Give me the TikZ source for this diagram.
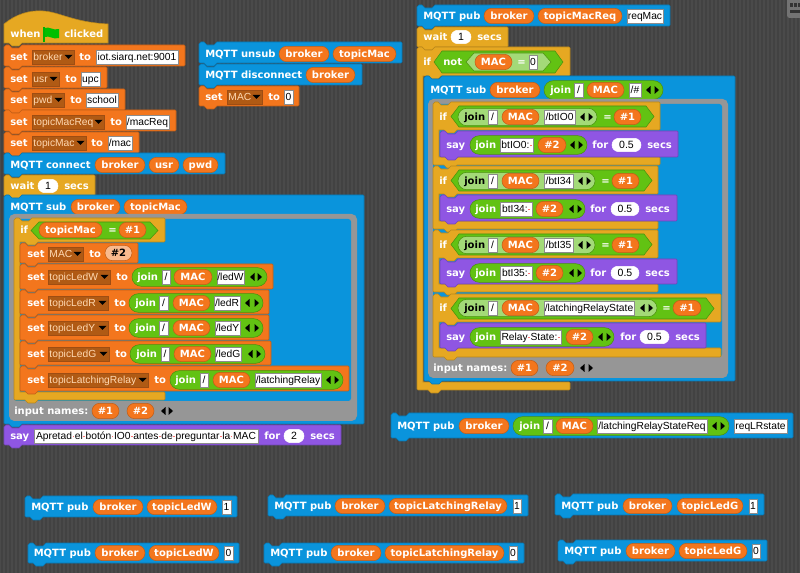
\documentclass[tikz,border=0pt]{standalone}
\usepackage{fontspec}
\setmainfont{DejaVu Sans}
\newfontfamily\fieldfont{Liberation Sans}
\usetikzlibrary{shapes.misc}
\definecolor{pane}{HTML}{4A4A4A}
\definecolor{panedark}{HTML}{424242}
\definecolor{mqttblue}{HTML}{0A94DC}
\definecolor{varorange}{HTML}{F3761D}
\definecolor{dropbrown}{HTML}{B05A14}
\definecolor{ctrlyellow}{HTML}{E6A822}
\definecolor{opgreen}{HTML}{62C213}
\definecolor{oplight}{HTML}{A3DA78}
\definecolor{sayviolet}{HTML}{8F56E3}
\definecolor{ringgray}{HTML}{969696}
\tikzset{mqtt/.style={fill=mqttblue,draw=mqttblue!80!black,thin}}
\tikzset{vars/.style={fill=varorange,draw=varorange!80!black,thin}}
\tikzset{ctrl/.style={fill=ctrlyellow,draw=ctrlyellow!80!black,thin}}
\tikzset{looks/.style={fill=sayviolet,draw=sayviolet!80!black,thin}}
\tikzset{word/.style={anchor=base west,inner sep=0pt,text=white,font=\bfseries\fontsize{7.5}{9}\selectfont}}
\tikzset{pill/.style={rounded rectangle,inner sep=0pt,minimum height=11.5pt,fill=varorange,draw=varorange!80!black,thin,text=white,text height=5.5pt,text depth=0pt,font=\bfseries\fontsize{7.5}{9}\selectfont}}
\tikzset{halfpill/.style={pill,fill=varorange!50!white,text=black}}
\tikzset{numpill/.style={pill,fill=white,draw=white,text=black,minimum height=10pt,font=\fieldfont\fontsize{7.9}{9}\selectfont}}
\tikzset{field/.style={rectangle,inner sep=0pt,minimum height=10pt,fill=white,draw=black!45,very thin,text=black,text height=5.8pt,text depth=0pt,font=\fieldfont\fontsize{7.7}{9}\selectfont}}
\tikzset{menu/.style={rectangle,anchor=west,inner sep=0pt,minimum height=11pt,fill=dropbrown,draw=varorange!65!black,very thin,text=orange!30!white,text height=5.8pt,text depth=0pt,align=left,font=\fieldfont\fontsize{7.7}{9}\selectfont}}
\tikzset{joinpill/.style={rounded rectangle,inner sep=0pt,minimum height=14pt,fill=opgreen,draw=opgreen!75!black,thin}}
\tikzset{innerjoin/.style={joinpill,fill=oplight,minimum height=13pt}}
\newcounter{partno}
% x, y of the baseline, text
\newcommand{\word}[3]{\stepcounter{partno}\node[word] (part\thepartno) at (#1,#2+3.5) {#3};}
% left, right, y, text
\newcommand{\varpill}[4]{\stepcounter{partno}\node[pill,minimum width={(#2-#1)*0.75pt}] (part\thepartno) at ({(#1+#2)/2},#3) {#4};}
\newcommand{\numpill}[4]{\stepcounter{partno}\node[numpill,minimum width={(#2-#1)*0.75pt}] (part\thepartno) at ({(#1+#2)/2},#3) {#4};}
\newcommand{\slot}[4]{\stepcounter{partno}\node[field,minimum width={(#2-#1)*0.75pt}] (part\thepartno) at ({(#1+#2)/2},#3) {#4};}
\newcommand{\menu}[4]{\stepcounter{partno}\node[menu,text width={(#2-#1)*0.75pt}] (part\thepartno) at (#1,#3) {\hspace{1pt}#4};
  \fill[black] (#2-9.5,#3-2) -- (#2-1.5,#3-2) -- (#2-5.5,#3+2) -- cycle;}
\newcommand{\joinbg}[4][joinpill]{\stepcounter{partno}\node[#1,minimum width={(#3-#2)*0.75pt}] (part\thepartno) at ({(#2+#3)/2},#4) {};}
\newcommand{\lrarrows}[3]{\fill[black] (#1+2.5,#3-4) -- (#1+2.5,#3+4) -- (#1-2,#3) -- cycle;
  \fill[black] (#2-2.5,#3-4) -- (#2-2.5,#3+4) -- (#2+2,#3) -- cycle;}
% style, left, top, right, bottom
\newcommand{\block}[5]{\draw[#1] (#2,#3+2) -- (#2+2,#3) -- (#2+5,#3) -- (#2+8,#3+3) -- (#2+15,#3+3) -- (#2+18,#3) -- (#4-1,#3) -- (#4,#3+1) -- (#4,#5-1) -- (#4-1,#5) -- (#2+18,#5) -- (#2+15,#5+3) -- (#2+8,#5+3) -- (#2+5,#5) -- (#2+1,#5) -- (#2,#5-1) -- cycle;}
% style, left, top, right, bottom of head, top of cap, bottom of cap
\newcommand{\cblock}[7]{\draw[#1] (#2,#3+2) -- (#2+2,#3) -- (#2+5,#3) -- (#2+8,#3+3) -- (#2+15,#3+3) -- (#2+18,#3) -- (#4-1,#3) -- (#4,#3+1) -- (#4,#5-1) -- (#4-1,#5) -- (#2+24,#5) -- (#2+21,#5+3) -- (#2+14,#5+3) -- (#2+11,#5) -- (#2+6,#5) -- (#2+6,#6) -- (#4-1,#6) -- (#4,#6+1) -- (#4,#7-1) -- (#4-1,#7) -- (#2+24,#7) -- (#2+21,#7+3) -- (#2+14,#7+3) -- (#2+11,#7) -- (#2+1,#7) -- (#2,#7-1) -- cycle;}
% left, top, right, bottom, bottom of the hole
\newcommand{\ring}[5]{\fill[ringgray,rounded corners=4pt] (#1,#2) rectangle (#3,#4);
  \fill[mqttblue,rounded corners=2pt] (#1+5,#2+5) rectangle (#3-6,#5);}
% left, right, top, bottom, fill
\newcommand{\hexa}[5]{\draw[fill=#5,draw=opgreen!75!black,thin] (#1,{(#3+#4)/2}) -- (#1+8,#3) -- (#2-8,#3) -- (#2,{(#3+#4)/2}) -- (#2-8,#4) -- (#1+8,#4) -- cycle;}
\newcommand{\gap}{\hspace{0.5pt}\textcolor{red!55!white}{\rule[1.8pt]{1.1pt}{1.1pt}}\hspace{0.5pt}}
% join inside a reporter: left of join, y, field one, MAC left, MAC right, field two
\newcommand{\slashjoin}[8]{\word{#1}{#2}{join}\slot{#3}{#4}{#2}{/}\varpill{#5}{#6}{#2}{MAC}\slot{#7}{#8}{#2}}

\begin{document}
\begin{tikzpicture}[x=0.75pt,y=-0.75pt]
  \useasboundingbox (0,0) rectangle (800,573);
  \fill[pane] (0,0) rectangle (800,573);
  \foreach \i in {1,5,...,797}
    \fill[panedark] (\i,0) rectangle (\i+2,573);
  % corner of the pane
  \fill[black!55,rounded corners=2pt] (787,-3) rectangle (803,18);
  \foreach \i in {790,794,798}
    \fill[black!80] (\i,3) rectangle (\i+3,7);
  \fill[black!80] (790,10) rectangle (800,13);

  % first script
  \draw[ctrl] (4,24) .. controls (16,14) and (30,10) .. (43,11) .. controls (60,12) and (72,22) .. (108,24) -- (108,43) -- (22,43) -- (19,46) -- (12,46) -- (9,43) -- (4,43) -- cycle;
  \word{10}{34}{when}
  \fill[green!70!black] (43,27) rectangle (45,42);
  \fill[green!75!black] (45,28) .. controls (49,26) and (53,31) .. (59,29) -- (59,38) .. controls (53,40) and (49,35) .. (45,37) -- cycle;
  \word{64}{34}{clicked}

  \block{vars}{4}{45}{185}{66}
  \word{10}{57}{set}\menu{32}{74}{57}{broker}\word{79}{57}{to}\slot{96}{178}{57}{iot.siarq.net:9001}
  \block{vars}{4}{67}{107}{88}
  \word{10}{79}{set}\menu{32}{59}{79}{usr}\word{65}{79}{to}\slot{81}{100}{79}{upc}
  \block{vars}{4}{89}{125}{110}
  \word{10}{100}{set}\menu{32}{64}{100}{pwd}\word{70}{100}{to}\slot{86}{118}{100}{school}
  \block{vars}{4}{110}{176}{131}
  \word{10}{122}{set}\menu{32}{104}{122}{topicMacReq}\word{110}{122}{to}\slot{126}{169}{122}{/macReq}
  \block{vars}{4}{132}{139}{153}
  \word{10}{143}{set}\menu{32}{86}{143}{topicMac}\word{91}{143}{to}\slot{108}{132}{143}{/mac}
  \block{mqtt}{4}{153}{225}{174}
  \word{10}{165}{MQTT connect}\varpill{95}{145}{165}{broker}\varpill{149}{179}{165}{usr}\varpill{183}{218}{165}{pwd}
  \block{ctrl}{4}{175}{95}{196}
  \word{10}{186}{wait}\numpill{38}{58}{186}{1}\word{64}{186}{secs}

  \block{mqtt}{4}{195}{364}{424}
  \word{10}{207}{MQTT sub}\varpill{71}{120}{207}{broker}\varpill{124}{187}{207}{topicMac}
  \ring{9}{214}{357}{421}{401}
  \cblock{ctrl}{14}{218}{165}{242}{392}{400}
  \word{20}{230}{if}
  \hexa{31}{158}{222}{239}{opgreen}
  \varpill{39}{102}{230}{topicMac}\word{108}{230}{=}\varpill{119}{146}{230}{\#1}

  \block{vars}{20}{243}{138}{263}
  \word{27}{254}{set}\menu{48}{83}{254}{MAC}\word{89}{254}{to}
  \stepcounter{partno}\node[halfpill,minimum width=20.25pt] (part\thepartno) at (118.5,253) {\#2};
  \block{vars}{20}{264}{273}{289}
  \word{27}{277}{set}\menu{48}{110}{277}{topicLedW}\word{116}{277}{to}
  \joinbg{132}{267}{277}\slashjoin{137}{277}{162}{170}{174}{212}{217}{244}{/ledW}\lrarrows{252}{260}{277}
  \block{vars}{20}{290}{269}{314}
  \word{27}{303}{set}\menu{48}{108}{303}{topicLedR}\word{114}{303}{to}
  \joinbg{129}{263}{303}\slashjoin{135}{303}{159}{168}{173}{210}{214}{240}{/ledR}\lrarrows{247}{257}{303}
  \block{vars}{20}{315}{269}{340}
  \word{27}{328}{set}\menu{48}{108}{328}{topicLedY}\word{114}{328}{to}
  \joinbg{129}{263}{328}\slashjoin{135}{328}{159}{168}{173}{210}{215}{240}{/ledY}\lrarrows{247}{257}{328}
  \block{vars}{20}{341}{271}{365}
  \word{27}{354}{set}\menu{48}{109}{354}{topicLedG}\word{115}{354}{to}
  \joinbg{130}{265}{354}\slashjoin{136}{354}{161}{169}{174}{211}{215}{241}{/ledG}\lrarrows{250}{259}{354}
  \block{vars}{20}{366}{349}{391}
  \word{27}{380}{set}\menu{48}{148}{380}{topicLatchingRelay}\word{154}{380}{to}
  \joinbg{170}{343}{380}\slashjoin{175}{380}{200}{208}{213}{250}{255}{321}{/latchingRelay}\lrarrows{328}{337}{380}

  \word{14}{411}{input names:}\varpill{92}{119}{411}{\#1}\varpill{127}{154}{411}{\#2}\lrarrows{163}{171}{411}
  \block{looks}{4}{425}{341}{445}
  \word{10}{436}{say}\slot{34}{258}{436}{Apretad\gap el\gap botón\gap IO0\gap antes\gap de\gap preguntar\gap la\gap MAC}\word{264}{436}{for}\numpill{284}{304}{436}{2}\word{310}{436}{secs}

  % second script
  \block{mqtt}{199}{42}{402}{63}
  \word{205}{54}{MQTT unsub}\varpill{279}{329}{54}{broker}\varpill{333}{396}{54}{topicMac}
  \block{mqtt}{199}{64}{362}{85}
  \word{205}{75}{MQTT disconnect}\varpill{306}{355}{75}{broker}
  \block{vars}{199}{86}{299}{106}
  \word{205}{97}{set}\menu{227}{262}{97}{MAC}\word{268}{97}{to}\slot{284}{293}{97}{0}

  % third script
  \block{mqtt}{417}{5}{670}{26}
  \word{423}{16}{MQTT pub}\varpill{484}{534}{16}{broker}\varpill{538}{622}{16}{topicMacReq}\slot{627}{663}{16}{reqMac}
  \block{ctrl}{417}{27}{508}{47}
  \word{423}{37}{wait}\numpill{451}{471}{37}{1}\word{477}{37}{secs}
  \cblock{ctrl}{417}{47}{570}{76}{382}{390}
  \word{423}{62}{if}
  \hexa{434}{563}{51}{73}{opgreen}
  \word{443}{62}{not}
  \hexa{466}{551}{53}{71}{oplight}
  \varpill{475}{512}{62}{MAC}\word{517}{62}{=}\slot{529}{537}{62}{0}

  \block{mqtt}{424}{76}{735}{381}
  \word{430}{90}{MQTT sub}\varpill{490}{540}{90}{broker}
  \joinbg{544}{663}{90}\slashjoin{550}{90}{574}{583}{587}{624}{629}{641}{/\#}\lrarrows{648}{657}{90}
  \ring{428}{99}{728}{378}{357}

  \cblock{ctrl}{433}{102}{660}{130}{157}{165}
  \word{439}{117}{if}
  \hexa{451}{654}{106}{127}{opgreen}
  \joinbg[innerjoin]{458}{597}{117}\word{464}{117}{\textcolor{black}{join}}\slot{488}{497}{117}{/}\varpill{502}{539}{117}{MAC}\slot{544}{575}{117}{/btIO0}\lrarrows{582}{591}{117}
  \word{603}{117}{=}\varpill{614}{641}{117}{\#1}
  \block{looks}{440}{131}{678}{157}
  \word{446}{145}{say}\joinbg{470}{587}{145}\word{475}{145}{join}\slot{500}{533}{145}{btIO0:\gap}\varpill{538}{566}{145}{\#2}\lrarrows{572}{581}{145}
  \word{592}{145}{for}\numpill{612}{641}{145}{0.5}\word{647}{145}{secs}

  \cblock{ctrl}{433}{166}{658}{194}{221}{229}
  \word{439}{181}{if}
  \hexa{451}{652}{170}{191}{opgreen}
  \joinbg[innerjoin]{458}{595}{181}\word{464}{181}{\textcolor{black}{join}}\slot{488}{497}{181}{/}\varpill{502}{539}{181}{MAC}\slot{544}{573}{181}{/btI34}\lrarrows{580}{589}{181}
  \word{601}{181}{=}\varpill{612}{639}{181}{\#1}
  \block{looks}{440}{195}{677}{221}
  \word{446}{209}{say}\joinbg{470}{585}{209}\word{475}{209}{join}\slot{500}{532}{209}{btI34:\gap}\varpill{536}{563}{209}{\#2}\lrarrows{571}{580}{209}
  \word{590}{209}{for}\numpill{611}{639}{209}{0.5}\word{645}{209}{secs}

  \cblock{ctrl}{433}{230}{658}{258}{284}{292}
  \word{439}{245}{if}
  \hexa{451}{652}{234}{255}{opgreen}
  \joinbg[innerjoin]{458}{595}{245}\word{464}{245}{\textcolor{black}{join}}\slot{488}{497}{245}{/}\varpill{502}{539}{245}{MAC}\slot{544}{573}{245}{/btI35}\lrarrows{580}{589}{245}
  \word{601}{245}{=}\varpill{612}{639}{245}{\#1}
  \block{looks}{440}{259}{677}{284}
  \word{446}{273}{say}\joinbg{470}{585}{273}\word{475}{273}{join}\slot{500}{532}{273}{btI35:\gap}\varpill{536}{563}{273}{\#2}\lrarrows{571}{580}{273}
  \word{590}{273}{for}\numpill{611}{639}{273}{0.5}\word{645}{273}{secs}

  \cblock{ctrl}{433}{294}{721}{322}{348}{357}
  \word{439}{308}{if}
  \hexa{451}{714}{298}{319}{opgreen}
  \joinbg[innerjoin]{458}{657}{308}\word{464}{308}{\textcolor{black}{join}}\slot{488}{497}{308}{/}\varpill{502}{539}{308}{MAC}\slot{544}{634}{308}{/latchingRelayState}\lrarrows{642}{651}{308}
  \word{662}{308}{=}\varpill{673}{701}{308}{\#1}
  \block{looks}{440}{323}{706}{348}
  \word{446}{337}{say}\joinbg{470}{614}{337}\word{475}{337}{join}\slot{500}{561}{337}{Relay\gap State:\gap}\varpill{566}{593}{337}{\#2}\lrarrows{600}{609}{337}
  \word{620}{337}{for}\numpill{640}{669}{337}{0.5}\word{675}{337}{secs}

  \word{433}{368}{input names:}\varpill{511}{538}{368}{\#1}\varpill{546}{574}{368}{\#2}\lrarrows{582}{591}{368}

  % single blocks
  \block{mqtt}{391}{413}{793}{438}
  \word{397}{426}{MQTT pub}\varpill{459}{509}{426}{broker}
  \joinbg{513}{729}{426}\slashjoin{519}{426}{543}{552}{556}{593}{597}{707}{/latchingRelayStateReq}\lrarrows{714}{723}{426}\slot{734}{787}{426}{reqLRstate}

  \block{mqtt}{25}{496}{237}{517}
  \word{31}{507}{MQTT pub}\varpill{93}{143}{507}{broker}\varpill{147}{217}{507}{topicLedW}\slot{222}{231}{507}{1}
  \block{mqtt}{28}{543}{239}{563}
  \word{33.5}{553}{MQTT pub}\varpill{95}{145}{553}{broker}\varpill{149}{219}{553}{topicLedW}\slot{224}{233}{553}{0}
  \block{mqtt}{268}{495}{528}{516}
  \word{274}{506}{MQTT pub}\varpill{335}{385}{506}{broker}\varpill{389}{507}{506}{topicLatchingRelay}\slot{513}{521}{506}{1}
  \block{mqtt}{264}{543}{524}{563}
  \word{270}{553}{MQTT pub}\varpill{331}{381}{553}{broker}\varpill{385}{504}{553}{topicLatchingRelay}\slot{509}{517}{553}{0}
  \block{mqtt}{555}{494}{764}{515}
  \word{561}{506}{MQTT pub}\varpill{623}{672}{506}{broker}\varpill{677}{743}{506}{topicLedG}\slot{749}{757}{506}{1}
  \block{mqtt}{558}{540}{767}{561}
  \word{564}{551}{MQTT pub}\varpill{626}{675}{551}{broker}\varpill{679}{747}{551}{topicLedG}\slot{752}{760}{551}{0}
\end{tikzpicture}
\end{document}
